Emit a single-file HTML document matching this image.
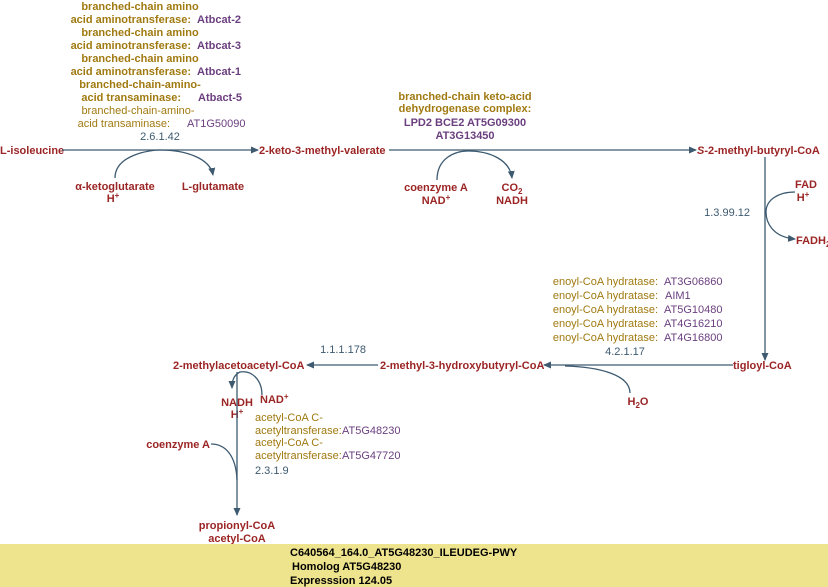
<!DOCTYPE html>
<html><head><meta charset="utf-8"><style>
body{margin:0;width:828px;height:587px;background:#fff;overflow:hidden}
svg{display:block}
text{font-family:"Liberation Sans",sans-serif;font-size:11px}
.r{fill:#9b2525;font-weight:bold}
.g{fill:#a07a10;font-weight:bold}
.gn{fill:#a07a10}
.p{fill:#6b3f7f;font-weight:bold}
.pn{fill:#6b3f7f}
.e{fill:#3d5a70}
.l{stroke:#3d5a70;stroke-width:1.3;fill:none}
</style></head><body>
<svg width="828" height="587" viewBox="0 0 828 587">
<defs><marker id="a" markerWidth="8" markerHeight="8" refX="7" refY="4" orient="auto" markerUnits="userSpaceOnUse"><path d="M0,0.5 L8,4 L0,7.5z" fill="#3d5a70"/></marker></defs>
<text class="g" x="140" y="10" text-anchor="middle">branched-chain amino</text>
<text class="g" x="191" y="23" text-anchor="end">acid aminotransferase:</text><text class="p" x="197" y="23">Atbcat-2</text>
<text class="g" x="140" y="36" text-anchor="middle">branched-chain amino</text>
<text class="g" x="191" y="49" text-anchor="end">acid aminotransferase:</text><text class="p" x="197" y="49">Atbcat-3</text>
<text class="g" x="140" y="62" text-anchor="middle">branched-chain amino</text>
<text class="g" x="191" y="75" text-anchor="end">acid aminotransferase:</text><text class="p" x="197" y="75">Atbcat-1</text>
<text class="g" x="140" y="88" text-anchor="middle">branched-chain-amino-</text>
<text class="g" x="181" y="101" text-anchor="end">acid transaminase:</text><text class="p" x="198" y="101">Atbact-5</text>
<text class="gn" x="138" y="114" text-anchor="middle">branched-chain-amino-</text>
<text class="gn" x="170" y="127" text-anchor="end">acid transaminase:</text><text class="pn" x="187" y="127">AT1G50090</text>
<text class="e" x="160" y="140" text-anchor="middle">2.6.1.42</text>
<text class="r" x="0" y="154">L-isoleucine</text>
<line class="l" x1="62" y1="150" x2="258" y2="150" marker-end="url(#a)"/>
<text class="r" x="259" y="154">2-keto-3-methyl-valerate</text>
<path class="l" d="M115,178 C115,155 150,150 160,150 C185,150 210,158 213,175" marker-end="url(#a)"/>
<text class="r" x="115" y="190" text-anchor="middle">α-ketoglutarate</text>
<text class="r" x="113" y="202" text-anchor="middle">H<tspan font-size="8" dy="-4">+</tspan></text>
<text class="r" x="213" y="190" text-anchor="middle">L-glutamate</text>
<text class="g" x="465" y="100" text-anchor="middle">branched-chain keto-acid</text>
<text class="g" x="465" y="112" text-anchor="middle">dehydrogenase complex:</text>
<text class="p" x="465" y="126" text-anchor="middle">LPD2  BCE2  AT5G09300</text>
<text class="p" x="465" y="139" text-anchor="middle">AT3G13450</text>
<line class="l" x1="389" y1="150" x2="696" y2="150" marker-end="url(#a)"/>
<path class="l" d="M437,180 C437,158 455,151 468,151 C490,151 510,160 512,178" marker-end="url(#a)"/>
<text class="r" x="436" y="191" text-anchor="middle">coenzyme A</text>
<text class="r" x="436" y="204" text-anchor="middle">NAD<tspan font-size="8" dy="-4">+</tspan></text>
<text class="r" x="512" y="191" text-anchor="middle">CO<tspan font-size="8" dy="3">2</tspan></text>
<text class="r" x="512" y="204" text-anchor="middle">NADH</text>
<text class="r" x="697" y="154"><tspan font-style="italic">S</tspan>-2-methyl-butyryl-CoA</text>
<line class="l" x1="765" y1="157" x2="765" y2="360" marker-end="url(#a)"/>
<path class="l" d="M795,192 C778,192 766,200 766,212 C766,222 772,237 795,239" marker-end="url(#a)"/>
<text class="r" x="806" y="188" text-anchor="middle">FAD</text>
<text class="r" x="803" y="201" text-anchor="middle">H<tspan font-size="8" dy="-4">+</tspan></text>
<text class="r" x="796" y="244">FADH<tspan font-size="8" dy="3">2</tspan></text>
<text class="e" x="750" y="216" text-anchor="end">1.3.99.12</text>
<text class="gn" x="658" y="285" text-anchor="end">enoyl-CoA hydratase:</text><text class="pn" x="664" y="285">AT3G06860</text>
<text class="gn" x="658" y="299" text-anchor="end">enoyl-CoA hydratase:</text><text class="pn" x="665" y="299">AIM1</text>
<text class="gn" x="658" y="313" text-anchor="end">enoyl-CoA hydratase:</text><text class="pn" x="664" y="313">AT5G10480</text>
<text class="gn" x="658" y="327" text-anchor="end">enoyl-CoA hydratase:</text><text class="pn" x="664" y="327">AT4G16210</text>
<text class="gn" x="658" y="341" text-anchor="end">enoyl-CoA hydratase:</text><text class="pn" x="664" y="341">AT4G16800</text>
<text class="e" x="625" y="355" text-anchor="middle">4.2.1.17</text>
<text class="r" x="733" y="369">tigloyl-CoA</text>
<line class="l" x1="733" y1="365" x2="544" y2="365" marker-end="url(#a)"/>
<path class="l" d="M630,393 C630,375 600,367 565,366"/>
<text class="r" x="638" y="405" text-anchor="middle">H<tspan font-size="8" dy="3">2</tspan><tspan dy="-3">O</tspan></text>
<text class="r" x="380" y="369">2-methyl-3-hydroxybutyryl-CoA</text>
<line class="l" x1="378" y1="365" x2="307" y2="365" marker-end="url(#a)"/>
<text class="e" x="343" y="353" text-anchor="middle">1.1.1.178</text>
<text class="r" x="173" y="369">2-methylacetoacetyl-CoA</text>
<path class="l" d="M262,395 C262,380 252,370 240,372 C234,375 232,380 232,388" marker-end="url(#a)"/>
<text class="r" x="237" y="406" text-anchor="middle">NADH</text>
<text class="r" x="237" y="418" text-anchor="middle">H<tspan font-size="8" dy="-4">+</tspan></text>
<text class="r" x="260" y="403">NAD<tspan font-size="8" dy="-4">+</tspan></text>
<line class="l" x1="237" y1="372" x2="237" y2="515" marker-end="url(#a)"/>
<path class="l" d="M211,444 C225,444 236,455 237,480"/>
<text class="r" x="210" y="448" text-anchor="end">coenzyme A</text>
<text class="gn" x="255" y="421">acetyl-CoA C-</text>
<text class="gn" x="255" y="434">acetyltransferase:</text><text class="pn" x="342" y="434">AT5G48230</text>
<text class="gn" x="255" y="446">acetyl-CoA C-</text>
<text class="gn" x="255" y="459">acetyltransferase:</text><text class="pn" x="342" y="459">AT5G47720</text>
<text class="e" x="255" y="474">2.3.1.9</text>
<text class="r" x="237" y="529" text-anchor="middle">propionyl-CoA</text>
<text class="r" x="237" y="542" text-anchor="middle">acetyl-CoA</text>
<rect x="0" y="544" width="828" height="43" fill="#efe48e"/>
<text x="290" y="556" font-weight="bold" font-size="12" fill="#000">C640564_164.0_AT5G48230_ILEUDEG-PWY</text>
<text x="292" y="570" font-weight="bold" font-size="12" fill="#000">Homolog AT5G48230</text>
<text x="290" y="584" font-weight="bold" font-size="12" fill="#000">Expresssion 124.05</text>
</svg>
</body></html>
